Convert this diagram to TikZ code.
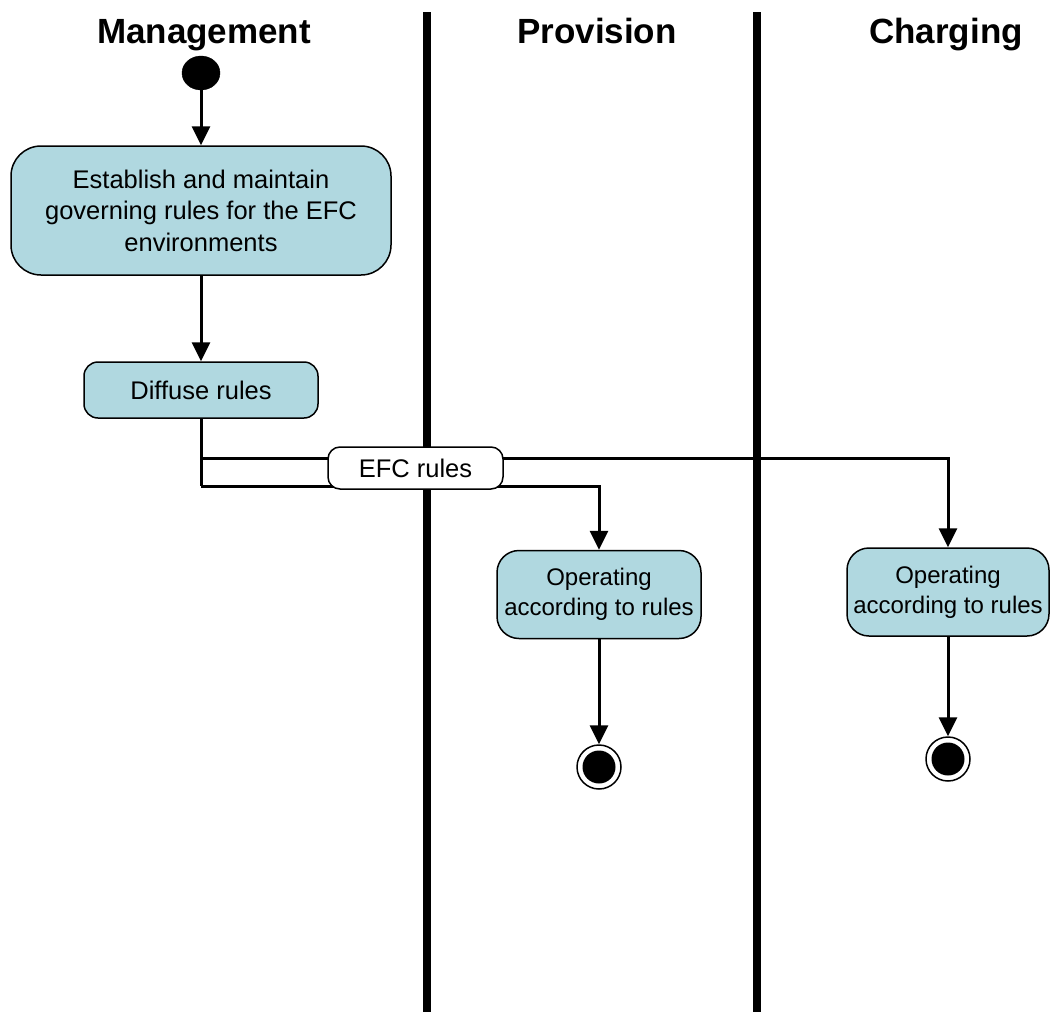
\documentclass[tikz,border=0pt]{standalone}
\usepackage{fontspec}
\setmainfont{Liberation Sans}
\usetikzlibrary{arrows.meta,shapes.geometric}
\definecolor{actfill}{RGB}{176,216,224}
\begin{document}
\begin{tikzpicture}[x=1pt,y=-1pt,
  lane/.style={line width=8pt},
  title/.style={font=\fontsize{35}{40}\selectfont\bfseries, anchor=base},
  action/.style={draw=black, line width=1.5pt, fill=actfill, align=center,
    font=\fontsize{25.5}{31.5}\selectfont, inner sep=0pt},
  smalltext/.style={font=\fontsize{24}{30}\selectfont},
  objnode/.style={draw=black, line width=1.5pt, fill=white, align=center,
    font=\fontsize{25.5}{31.5}\selectfont, inner sep=0pt, rounded corners=12pt,
    minimum width=175pt, minimum height=42pt},
  flow/.style={line width=3pt, -{Triangle[length=19pt,width=18pt]}},
  link/.style={line width=3pt}
]
\useasboundingbox (0,0) rectangle (1050,1012);

% swimlane headers
\node[title] (hMan) at (204,43) {Management};
\node[title] (hPro) at (597,43) {Provision};
\node[title] (hCha) at (946,43) {Charging};

% swimlane separators
\coordinate (l1top) at (427,12);
\coordinate (l1bot) at (427,1012);
\coordinate (l2top) at (757,12);
\coordinate (l2bot) at (757,1012);
\draw[lane] (l1top) -- (l1bot);
\draw[lane] (l2top) -- (l2bot);

% initial node
\node[ellipse, fill=black, draw=black, minimum width=38pt, minimum height=34pt, inner sep=0pt] (start) at (201,73) {};

% actions
\node[action, rounded corners=30pt, minimum width=380pt, minimum height=129pt] (est) at (201,210.5)
  {Establish and maintain\\governing rules for the EFC\\environments};
\node[action, rounded corners=14pt, minimum width=234pt, minimum height=56pt] (diff) at (201,390) {Diffuse rules};
\node[action, smalltext, rounded corners=22pt, minimum width=204pt, minimum height=88pt] (op1) at (599,594.5)
  {Operating\\according to rules};
\node[action, smalltext, rounded corners=22pt, minimum width=202pt, minimum height=88pt] (op2) at (948,592)
  {Operating\\according to rules};

% final nodes
\node[circle, draw=black, line width=1.5pt, fill=white, minimum size=44pt, inner sep=0pt] (end1) at (599,767) {};
\node[circle, fill=black, minimum size=33pt, inner sep=0pt] at (end1) {};
\node[circle, draw=black, line width=1.5pt, fill=white, minimum size=44pt, inner sep=0pt] (end2) at (948,759) {};
\node[circle, fill=black, minimum size=33pt, inner sep=0pt] at (end2) {};

% control flow
\draw[flow] (start.south) -- (est.north);
\draw[flow] (est.south) -- (diff.north);

\coordinate (fork) at (201,458);
\coordinate (lowbend) at (201,486);
\draw[link] (diff.south) -- (lowbend);
\draw[flow] (lowbend) -| (op1.north);
\draw[flow] (fork) -| (op2.north);

\draw[flow] (op1.south) -- (end1.north);
\draw[flow] (op2.south) -- (end2.north);

% object flow
\node[objnode] (efc) at (415.5,468) {EFC rules};
\end{tikzpicture}
\end{document}
